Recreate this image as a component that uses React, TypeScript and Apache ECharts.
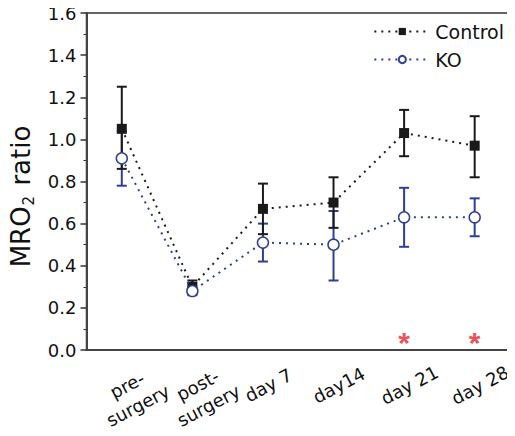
import React, { useEffect, useRef } from "react";
import * as echarts from "echarts";

const categories = ["pre-\nsurgery", "post-\nsurgery", "day 7", "day14", "day 21", "day 28"];
const controlMean = [1.05, 0.30, 0.67, 0.70, 1.03, 0.97];
const controlLow = [0.86, 0.27, 0.55, 0.58, 0.92, 0.82];
const controlHigh = [1.25, 0.33, 0.79, 0.82, 1.14, 1.11];
const koMean = [0.91, 0.28, 0.51, 0.50, 0.63, 0.63];
const koLow = [0.78, 0.26, 0.42, 0.33, 0.49, 0.54];
const koHigh = [1.04, 0.30, 0.60, 0.66, 0.77, 0.72];
const starCategories = [4, 5];
const starValue = 0.06;

const BLACK = "#1a1a1a";
const BLUE = "#2e3f95";
const FONT = "DejaVu Sans, Liberation Sans, Arial, sans-serif";

function errorSeries(name: string, low: number[], high: number[], color: string) {
  return {
    type: "custom",
    name: name + "-err",
    z: 2,
    silent: true,
    data: low.map((l, i) => [i, l, high[i]]),
    renderItem: (params: any, api: any) => {
      const x = api.value(0);
      const lo = api.coord([x, api.value(1)]);
      const hi = api.coord([x, api.value(2)]);
      const w = 5;
      const style = { stroke: color, lineWidth: 2 };
      return {
        type: "group",
        children: [
          { type: "line", shape: { x1: lo[0], y1: lo[1], x2: hi[0], y2: hi[1] }, style },
          { type: "line", shape: { x1: lo[0] - w, y1: lo[1], x2: lo[0] + w, y2: lo[1] }, style },
          { type: "line", shape: { x1: hi[0] - w, y1: hi[1], x2: hi[0] + w, y2: hi[1] }, style },
        ],
      };
    },
  };
}

export default function App() {
  const ref = useRef<HTMLDivElement>(null);
  useEffect(() => {
    if (!ref.current) return;
    const chart = echarts.init(ref.current, undefined, { renderer: "svg" });
    chart.setOption({
      animation: false,
      textStyle: { fontFamily: FONT },
      grid: {
        left: 83,
        top: 13,
        right: 4,
        bottom: 86,
        show: true,
        borderColor: "#333",
        borderWidth: 1.5,
        backgroundColor: "transparent",
      },
      legend: {
        orient: "vertical",
        right: 6,
        top: 17,
        itemGap: 9,
        itemWidth: 56,
        itemHeight: 9,
        data: ["Control", "KO"],
        textStyle: { fontSize: 19, color: "#111", fontFamily: FONT },
      },
      xAxis: {
        type: "category",
        data: categories,
        boundaryGap: true,
        axisLine: { lineStyle: { color: "#444", width: 2 } },
        axisTick: { alignWithLabel: true, length: 5, lineStyle: { color: "#333", width: 1.5 } },
        axisLabel: {
          interval: 0,
          rotate: 28,
          fontSize: 18,
          color: "#111",
          margin: 25,
          lineHeight: 23,
          align: "center",
          verticalAlign: "top",
          fontFamily: FONT,
        },
      },
      yAxis: {
        type: "value",
        min: 0,
        max: 1.6,
        interval: 0.2,
        name: "MRO{sub|2} ratio",
        nameLocation: "middle",
        nameGap: 50,
        nameTextStyle: {
          fontSize: 26,
          color: "#111",
          fontFamily: FONT,
          padding: [0, 30, 0, 0],
          rich: {
            sub: { fontSize: 15, fontFamily: FONT, color: "#111", verticalAlign: "bottom", padding: [16, 2, 0, 1] },
          },
        },
        axisLine: { show: true, lineStyle: { color: "#444", width: 2 } },
        axisTick: { show: true, length: 6, lineStyle: { color: "#333", width: 1.5 } },
        minorTick: { show: true, splitNumber: 2, length: 3, lineStyle: { color: "#333", width: 1 } },
        splitLine: { show: false },
        axisLabel: {
          fontSize: 18,
          color: "#111",
          margin: 10,
          fontFamily: FONT,
          formatter: (v: number) => v.toFixed(1),
        },
      },
      series: [
        errorSeries("KO", koLow, koHigh, BLUE),
        errorSeries("Control", controlLow, controlHigh, BLACK),
        {
          name: "Control",
          type: "line",
          z: 4,
          data: controlMean,
          symbol: "rect",
          symbolSize: 10,
          itemStyle: { color: BLACK },
          lineStyle: { color: BLACK, width: 2, type: [2, 5] },
        },
        {
          name: "KO",
          type: "line",
          z: 5,
          data: koMean,
          symbol: "circle",
          symbolSize: 11,
          itemStyle: { color: "#fff", borderColor: BLUE, borderWidth: 1.5 },
          lineStyle: { color: BLUE, width: 2, type: [2, 5] },
        },
        {
          name: "stars",
          type: "scatter",
          symbolSize: 1,
          itemStyle: { color: "transparent" },
          data: starCategories.map((c) => [c, starValue]),
          label: {
            show: true,
            position: "inside",
            formatter: "*",
            fontSize: 30,
            fontWeight: "bold",
            fontFamily: "Liberation Sans, Arial, sans-serif",
            color: "#e3242b",
            offset: [0, 5],
          },
        },
      ],
    });
    return () => chart.dispose();
  }, []);
  return <div ref={ref} style={{ width: 515, height: 436, margin: -8 }} />;
}
